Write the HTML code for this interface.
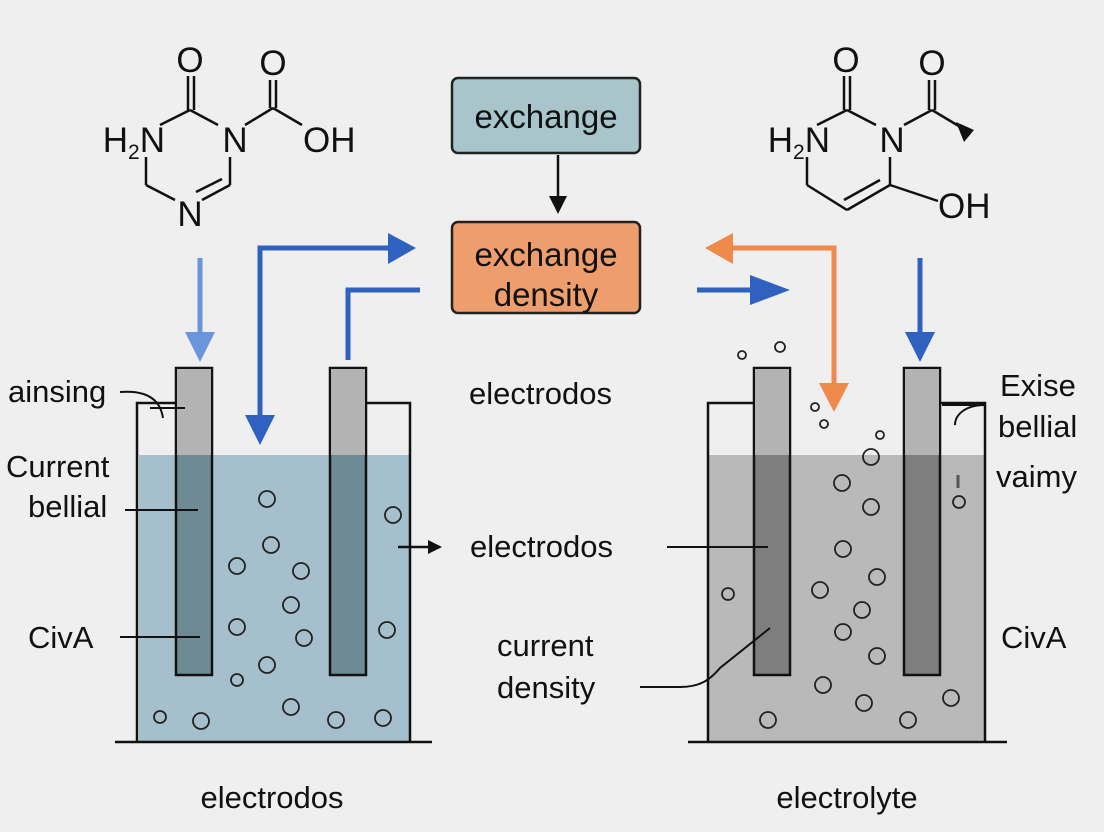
<!DOCTYPE html>
<html><head><meta charset="utf-8"><style>
html,body{margin:0;padding:0;background:#efefef;}
svg{display:block;font-family:"Liberation Sans",sans-serif;}
</style></head><body>
<svg width="1104" height="832" viewBox="0 0 1104 832" xmlns="http://www.w3.org/2000/svg">
<rect width="1104" height="832" fill="#efefef"/>
<!-- left molecule -->
<g stroke="#111" stroke-width="2.5" fill="none">
<line x1="188" y1="76" x2="188" y2="110"/><line x1="194" y1="76" x2="194" y2="110"/>
<line x1="160" y1="125" x2="190" y2="110"/><line x1="190" y1="110" x2="218" y2="125"/>
<line x1="245" y1="125" x2="273" y2="108"/><line x1="270" y1="80" x2="270" y2="108"/><line x1="276" y1="80" x2="276" y2="108"/>
<line x1="273" y1="108" x2="302" y2="125"/>
<line x1="146" y1="157" x2="146" y2="185"/><line x1="146" y1="185" x2="175" y2="200"/>
<line x1="230" y1="157" x2="230" y2="185"/><line x1="230" y1="185" x2="202" y2="200"/><line x1="222" y1="179" x2="196" y2="192"/>
</g>
<g font-size="35" fill="#111">
<text x="190" y="72" text-anchor="middle">O</text><text x="273" y="75" text-anchor="middle">O</text>
<text x="165" y="152" text-anchor="end">H<tspan font-size="21" dy="7">2</tspan><tspan dy="-7">N</tspan></text>
<text x="235" y="152" text-anchor="middle">N</text><text x="303" y="152">OH</text>
<text x="190" y="226" text-anchor="middle">N</text>
</g>
<!-- right molecule -->
<g stroke="#111" stroke-width="2.5" fill="none">
<line x1="844" y1="76" x2="844" y2="110"/><line x1="850" y1="76" x2="850" y2="110"/>
<line x1="817" y1="125" x2="847" y2="110"/><line x1="847" y1="110" x2="876" y2="125"/>
<line x1="904" y1="125" x2="932" y2="110"/><line x1="929" y1="80" x2="929" y2="110"/><line x1="935" y1="80" x2="935" y2="110"/>
<line x1="932" y1="110" x2="962" y2="128"/>
<line x1="807" y1="157" x2="807" y2="185"/><line x1="807" y1="185" x2="847" y2="210"/>
<line x1="890" y1="157" x2="890" y2="185"/><line x1="890" y1="185" x2="847" y2="210"/><line x1="880" y1="180" x2="844" y2="200"/>
<line x1="890" y1="185" x2="938" y2="201"/>
</g>
<polygon points="956,122 974,130 964,142" fill="#111"/>
<g font-size="35" fill="#111">
<text x="846" y="72" text-anchor="middle">O</text><text x="932" y="75" text-anchor="middle">O</text>
<text x="830" y="152" text-anchor="end">H<tspan font-size="21" dy="7">2</tspan><tspan dy="-7">N</tspan></text>
<text x="892" y="152" text-anchor="middle">N</text><text x="938" y="218">OH</text>
</g>
<!-- boxes -->
<rect x="452" y="78" width="188" height="75" rx="6" fill="#a9c5cc" stroke="#222" stroke-width="2.5"/>
<text x="546" y="128" font-size="33" text-anchor="middle" fill="#111">exchange</text>
<rect x="452" y="222" width="188" height="91" rx="6" fill="#ee9d6c" stroke="#222" stroke-width="2.5"/>
<text x="546" y="266" font-size="33" text-anchor="middle" fill="#111">exchange</text>
<text x="546" y="306" font-size="33" text-anchor="middle" fill="#111">density</text>
<line x1="558" y1="155" x2="558" y2="200" stroke="#111" stroke-width="2.5"/>
<polygon points="549,196 567,196 558,214" fill="#111"/>
<!-- beakers -->
<rect x="139" y="455" width="270" height="287" fill="#a5c0cc"/>
<rect x="709" y="455" width="276" height="287" fill="#b9b9b9"/>
<g stroke="#111" stroke-width="2.5" fill="none">
<polyline points="137,742 137,403 176,403"/><polyline points="366,403 410,403 410,742"/>
<polyline points="708,742 708,403 754,403"/><polyline points="940,403 985,403 985,742"/>
<line x1="115" y1="742" x2="432" y2="742"/><line x1="688" y1="742" x2="1007" y2="742"/>
</g>
<g stroke="#111" stroke-width="2.5">
<rect x="176" y="368" width="36" height="307" fill="#6e8a92"/><rect x="177" y="369" width="34" height="86" fill="#b3b3b3" stroke="none"/>
<rect x="330" y="368" width="36" height="307" fill="#6e8a92"/><rect x="331" y="369" width="34" height="86" fill="#b3b3b3" stroke="none"/>
<rect x="754" y="368" width="36" height="307" fill="#7e7e7e"/><rect x="755" y="369" width="34" height="86" fill="#b3b3b3" stroke="none"/>
<rect x="904" y="368" width="36" height="307" fill="#7e7e7e"/><rect x="905" y="369" width="34" height="86" fill="#b3b3b3" stroke="none"/>
</g>
<g stroke="#222" stroke-width="1.8" fill="none">
<circle cx="267" cy="499" r="8"/><circle cx="393" cy="515" r="8"/><circle cx="271" cy="545" r="8"/><circle cx="237" cy="566" r="8"/>
<circle cx="301" cy="571" r="8"/><circle cx="291" cy="605" r="8"/><circle cx="237" cy="627" r="8"/><circle cx="387" cy="630" r="8"/>
<circle cx="304" cy="638" r="8"/><circle cx="267" cy="665" r="8"/><circle cx="237" cy="680" r="6"/><circle cx="291" cy="707" r="8"/>
<circle cx="160" cy="717" r="6"/><circle cx="201" cy="721" r="8"/><circle cx="336" cy="720" r="8"/><circle cx="383" cy="718" r="8"/>
<circle cx="742" cy="355" r="4"/><circle cx="780" cy="347" r="5"/><circle cx="815" cy="407" r="4"/><circle cx="824" cy="424" r="4"/><circle cx="880" cy="435" r="4"/>
<circle cx="871" cy="457" r="8"/><circle cx="842" cy="483" r="8"/><circle cx="871" cy="507" r="8"/><circle cx="959" cy="502" r="6"/>
<circle cx="843" cy="549" r="8"/><circle cx="877" cy="577" r="8"/><circle cx="820" cy="590" r="8"/><circle cx="728" cy="594" r="6"/>
<circle cx="862" cy="610" r="8"/><circle cx="843" cy="632" r="8"/><circle cx="877" cy="656" r="8"/><circle cx="823" cy="685" r="8"/>
<circle cx="951" cy="698" r="8"/><circle cx="864" cy="703" r="8"/><circle cx="768" cy="720" r="8"/><circle cx="908" cy="720" r="8"/>
</g>
<path d="M958 475 L958 488" stroke="#555" stroke-width="3"/>
<!-- arrows -->
<g fill="none" stroke-width="5">
<line x1="200" y1="258" x2="200" y2="335" stroke="#6a94dc"/>
<polyline points="260,425 260,248 390,248" stroke="#2f62c0"/>
<polyline points="348,360 348,290 420,290" stroke="#2f62c0"/>
<line x1="697" y1="290" x2="760" y2="290" stroke="#2f62c0"/>
<polyline points="725,248 834,248 834,390" stroke="#ef8a4c"/>
<line x1="920" y1="258" x2="920" y2="335" stroke="#2f62c0"/>
</g>
<polygon points="185,332 215,332 200,362" fill="#6a94dc"/>
<polygon points="388,233 416,248 388,264" fill="#2f62c0"/>
<polygon points="245,415 275,415 260,445" fill="#2f62c0"/>
<polygon points="750,275 790,290 750,305" fill="#2f62c0"/>
<polygon points="733,233 705,248 733,264" fill="#ef8a4c"/>
<polygon points="819,383 849,383 834,412" fill="#ef8a4c"/>
<polygon points="905,332 935,332 920,362" fill="#2f62c0"/>
<!-- leaders -->
<g stroke="#111" stroke-width="2" fill="none">
<path d="M120 392 C145 390 160 398 163 418"/><line x1="150" y1="408" x2="185" y2="408"/>
<line x1="125" y1="510" x2="198" y2="510"/>
<line x1="120" y1="637" x2="200" y2="637"/>
<line x1="667" y1="547" x2="768" y2="547"/>
<path d="M640 687 L680 687 C700 687 710 680 720 668 L770 628"/>
<path d="M985 405 C965 405 955 415 955 425"/><line x1="942" y1="405" x2="985" y2="405"/>
</g>
<line x1="398" y1="547" x2="430" y2="547" stroke="#111" stroke-width="2.5"/>
<polygon points="428,540 442,547 428,554" fill="#111"/>
<!-- labels -->
<g font-size="31" fill="#111">
<text x="8" y="402">ainsing</text>
<text x="6" y="477">Current</text><text x="28" y="517">bellial</text>
<text x="28" y="648">CivA</text>
<text x="469" y="404">electrodos</text>
<text x="470" y="557">electrodos</text>
<text x="497" y="656">current</text><text x="497" y="698">density</text>
<text x="1000" y="396">Exise</text><text x="998" y="437">bellial</text><text x="996" y="487">vaimy</text>
<text x="1001" y="648">CivA</text>
<text x="272" y="808" text-anchor="middle">electrodos</text>
<text x="847" y="808" text-anchor="middle">electrolyte</text>
</g>
</svg>
</body></html>
